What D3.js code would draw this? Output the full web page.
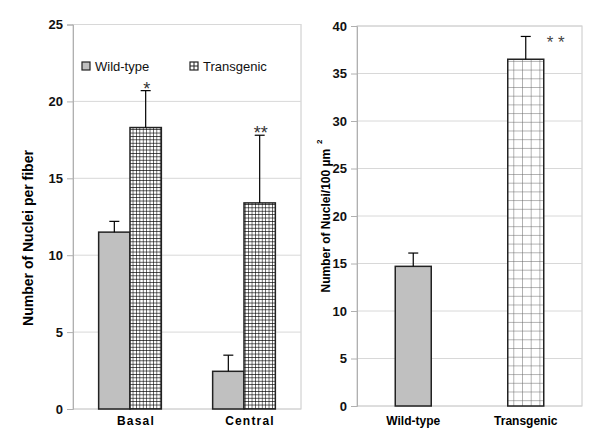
<!DOCTYPE html>
<html>
<head>
<meta charset="utf-8">
<script src="https://cdn.jsdelivr.net/npm/d3@7"></script>
<style>
  body { margin: 0; background: #fff; }
  text { font-family: Arial, "Liberation Sans", sans-serif; }
</style>
</head>
<body>
<div id="chart"></div>
<script>
// left panel: nuclei per fiber
const leftCategories = ['Basal', 'Central'];
const leftSeries = ['Wild-type', 'Transgenic'];
const leftWild = [11.5, 2.45];
const leftWildErr = [0.7, 1.05];
const leftTrans = [18.3, 13.4];
const leftTransErr = [2.4, 4.4];
const leftMarks = ['*', '**'];
const leftTicks = [0, 5, 10, 15, 20, 25];

// right panel: nuclei per 100 µm²
const rightCategories = ['Wild-type', 'Transgenic'];
const rightValues = [14.7, 36.5];
const rightErr = [1.4, 2.4];
const rightMarks = ['', '* *'];
const rightTicks = [0, 5, 10, 15, 20, 25, 30, 35, 40];

const svg = d3.select('#chart').append('svg')
  .attr('width', 600)
  .attr('height', 440);

const defs = svg.append('defs');

// fine black grid (left transgenic)
const pFine = defs.append('pattern')
  .attr('id', 'gridFine')
  .attr('patternUnits', 'userSpaceOnUse')
  .attr('width', 3.4).attr('height', 3.4);
pFine.append('rect').attr('width', 3.4).attr('height', 3.4).attr('fill', '#fff');
pFine.append('path').attr('d', 'M0,0H3.4M0,0V3.4')
  .attr('stroke', '#000').attr('stroke-width', 1.1).attr('fill', 'none');

// coarse grey grid (right transgenic)
const pCoarse = defs.append('pattern')
  .attr('id', 'gridCoarse')
  .attr('patternUnits', 'userSpaceOnUse')
  .attr('width', 8.7).attr('height', 8.7);
pCoarse.append('rect').attr('width', 8.7).attr('height', 8.7).attr('fill', '#fff');
pCoarse.append('path').attr('d', 'M0,0H8.7M0,0V8.7')
  .attr('stroke', '#666').attr('stroke-width', 1).attr('fill', 'none');

const wildFill = '#c0c0c0';

function drawFrame(g, x0, x1, y, ticks) {
  // plot border
  g.append('rect')
    .attr('x', x0).attr('y', y.range()[1])
    .attr('width', x1 - x0).attr('height', y.range()[0] - y.range()[1])
    .attr('fill', 'none').attr('stroke', '#c8c8c8');
  // gridlines
  g.selectAll('.grid').data(ticks).enter().append('line')
    .attr('x1', x0).attr('x2', x1)
    .attr('y1', d => y(d)).attr('y2', d => y(d))
    .attr('stroke', '#d8d8d8');
  // axis
  const ax = g.append('g')
    .attr('transform', `translate(${x0},0)`)
    .call(d3.axisLeft(y).tickValues(ticks).tickSize(6).tickPadding(4));
  ax.select('.domain').attr('stroke', '#b0b0b0');
  ax.selectAll('.tick line').attr('stroke', '#b0b0b0');
  ax.selectAll('.tick text')
    .attr('fill', '#111')
    .style('font-size', '13px')
    .style('font-weight', 'bold');
}

function errorBar(g, cx, top, base) {
  g.append('line').attr('x1', cx).attr('x2', cx)
    .attr('y1', base).attr('y2', top)
    .attr('stroke', '#000').attr('stroke-width', 1.2);
  g.append('line').attr('x1', cx - 5).attr('x2', cx + 5)
    .attr('y1', top).attr('y2', top)
    .attr('stroke', '#000').attr('stroke-width', 1.2);
}

// ---------- left panel ----------
const L = svg.append('g');
const yL = d3.scaleLinear().domain([0, 25]).range([409, 24.5]);
const xL = d3.scaleBand().domain(leftCategories).range([73, 301])
  .paddingInner(0.45).paddingOuter(0.225);
const xL1 = d3.scaleBand().domain(leftSeries).range([0, xL.bandwidth()]);

drawFrame(L, 73, 301, yL, leftTicks);

leftCategories.forEach((c, i) => {
  const vals = [leftWild[i], leftTrans[i]];
  const errs = [leftWildErr[i], leftTransErr[i]];
  leftSeries.forEach((s, j) => {
    const bx = xL(c) + xL1(s);
    L.append('rect')
      .attr('x', bx).attr('y', yL(vals[j]))
      .attr('width', xL1.bandwidth()).attr('height', yL(0) - yL(vals[j]))
      .attr('fill', j === 0 ? wildFill : 'url(#gridFine)')
      .attr('stroke', '#222').attr('stroke-width', 1.5);
    errorBar(L, bx + xL1.bandwidth() / 2, yL(vals[j] + errs[j]), yL(vals[j]));
  });
  L.append('text')
    .attr('x', xL(c) + xL1('Transgenic') + xL1.bandwidth() / 2 + 1)
    .attr('y', yL(leftTrans[i] + leftTransErr[i]) + 4)
    .attr('text-anchor', 'middle')
    .style('font-size', '18px')
    .attr('fill', '#333')
    .text(leftMarks[i]);
  L.append('text')
    .attr('x', xL(c) + xL.bandwidth() / 2 + 6)
    .attr('y', 425)
    .attr('text-anchor', 'middle')
    .style('font-size', '12px')
    .style('font-weight', 'bold')
    .style('letter-spacing', '1.2px')
    .text(c);
});

// legend
const legendX = [82, 190];
leftSeries.forEach((s, j) => {
  L.append('rect')
    .attr('x', legendX[j]).attr('y', 62)
    .attr('width', 8).attr('height', 8)
    .attr('fill', j === 0 ? wildFill : '#fff')
    .attr('stroke', '#222').attr('stroke-width', 1.2);
  if (j === 1) {
    L.append('path')
      .attr('d', `M${legendX[j] + 4},62V70M${legendX[j]},66H${legendX[j] + 8}`)
      .attr('stroke', '#222').attr('stroke-width', 1);
  }
  L.append('text')
    .attr('x', legendX[j] + 13).attr('y', 71)
    .style('font-size', '13px')
    .attr('fill', '#111')
    .text(s);
});

L.append('text')
  .attr('transform', 'translate(33,238) rotate(-90)')
  .attr('text-anchor', 'middle')
  .style('font-size', '14px')
  .style('font-weight', 'bold')
  .text('Number of Nuclei per fiber');

// ---------- right panel ----------
const R = svg.append('g');
const yR = d3.scaleLinear().domain([0, 40]).range([406, 26]);
const xR = d3.scaleBand().domain(rightCategories).range([357, 582])
  .paddingInner(0.68).paddingOuter(0.34);

drawFrame(R, 357, 582, yR, rightTicks);

rightCategories.forEach((c, i) => {
  R.append('rect')
    .attr('x', xR(c)).attr('y', yR(rightValues[i]))
    .attr('width', xR.bandwidth()).attr('height', yR(0) - yR(rightValues[i]))
    .attr('fill', i === 0 ? wildFill : 'url(#gridCoarse)')
    .attr('stroke', '#222').attr('stroke-width', 1.5);
  errorBar(R, xR(c) + xR.bandwidth() / 2, yR(rightValues[i] + rightErr[i]), yR(rightValues[i]));
  R.append('text')
    .attr('x', xR(c) + xR.bandwidth() + 3)
    .attr('y', yR(rightValues[i] + rightErr[i]) + 12)
    .style('font-size', '17px')
    .attr('fill', '#444')
    .text(rightMarks[i]);
  R.append('text')
    .attr('x', xR(c) + xR.bandwidth() / 2)
    .attr('y', 425)
    .attr('text-anchor', 'middle')
    .style('font-size', '12px')
    .style('font-weight', 'bold')
    .text(c);
});

const yLabel = R.append('text')
  .attr('transform', 'translate(330,216) rotate(-90)')
  .attr('text-anchor', 'middle')
  .style('font-size', '12px')
  .style('font-weight', 'bold');
yLabel.append('tspan').text('Number of Nuclei/100 µm');
yLabel.append('tspan')
  .attr('dx', 5).attr('dy', -8)
  .style('font-size', '8px')
  .text('2');
</script>
</body>
</html>
